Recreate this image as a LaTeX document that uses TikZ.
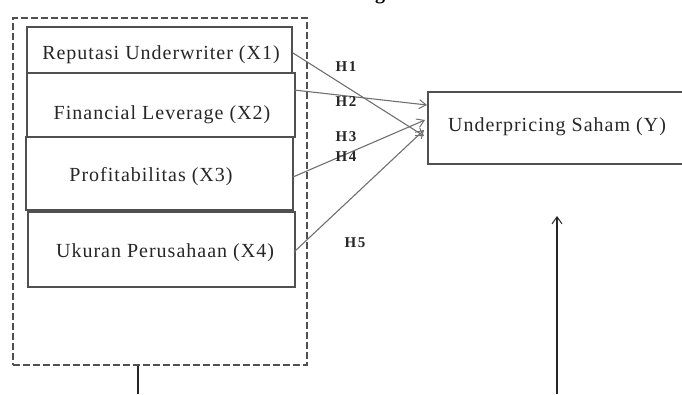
\documentclass[tikz,border=0pt]{standalone}
\usepackage{fontspec}
\setmainfont{Liberation Serif}
\newfontfamily\boxfont[LetterSpace=5]{Liberation Serif}
\usetikzlibrary{arrows.meta,calc}
\definecolor{linegray}{HTML}{505050}
\definecolor{arrgray}{HTML}{707070}
\begin{document}
\begin{tikzpicture}[x=1pt,y=-1pt,
  varbox/.style={draw=linegray,line width=1.4pt,inner sep=0pt},
  vartext/.style={font=\boxfont\fontsize{20}{22}\selectfont,text=black!85,inner sep=0pt},
  hyp/.style={font=\bfseries\fontsize{15}{17}\selectfont\addfontfeatures{LetterSpace=10},inner sep=0pt,text=black!85},
  link/.style={draw=arrgray,line width=1.1pt,-{Straight Barb[length=7pt,width=9pt,line width=1pt]}},
  frame/.style={draw=linegray,line width=1.3pt,dash pattern=on 7pt off 3pt}]
\useasboundingbox (0,0) rectangle (682,394);
\clip (0,0) rectangle (682,394);
% clipped caption fragment
\node[font=\bfseries\fontsize{20}{22}\selectfont,anchor=base,inner sep=0pt] (cap) at (380,-1) {g};
% dashed frame
\node[frame,minimum width=294pt,minimum height=347pt,inner sep=0pt] (frm) at (160,191.5) {};
% variable boxes
\node[varbox,minimum width=265pt,minimum height=46pt] (x1) at (159.5,50) {};
\node[varbox,minimum width=268pt,minimum height=64pt] (x2) at (161,105) {};
\node[varbox,minimum width=267pt,minimum height=73pt] (x3) at (159.5,173.5) {};
\node[varbox,minimum width=267pt,minimum height=75pt] (x4) at (161.5,249.5) {};
\node[vartext] (t1) at (161,55) {Reputasi Underwriter (X1)};
\node[vartext] (t2) at (162,115) {Financial Leverage (X2)};
\node[vartext] (t3) at (151,177) {Profitabilitas (X3)};
\node[vartext] (t4) at (165,253) {Ukuran Perusahaan (X4)};
% dependent box
\node[varbox,minimum width=270pt,minimum height=72pt] (y) at (563,128) {};
\node[vartext] (ty) at (557,127) {Underpricing Saham (Y)};
% connector points
\coordinate (s1) at (293,53);
\coordinate (s2) at (294,90);
\coordinate (s3) at (293,177);
\coordinate (s4) at (294,252);
\coordinate (e1) at (424,136);
\coordinate (e2) at (427,105);
\coordinate (e3) at (425,120);
\coordinate (e4) at (424,130);
\draw[link] (s1) -- (e1);
\draw[link] (s2) -- (e2);
\draw[link] (s3) -- (e3);
\draw[link] (s4) -- (e4);
% hypothesis labels
\node[hyp] (h1) at (346,67) {H1};
\node[hyp] (h2) at (346,102) {H2};
\node[hyp] (h3) at (346,137) {H3};
\node[hyp] (h4) at (346,157) {H4};
\node[hyp] (h5) at (355,243) {H5};
% bottom lines
\coordinate (b1) at (138,394);
\coordinate (b2) at (557,394);
\coordinate (up) at (557,216);
\draw[line width=1.2pt,black!85] (frm.south -| b1) -- (b1);
\draw[line width=1.2pt,black!85,-{Straight Barb[length=7pt,width=10pt,line width=1pt]}] (b2) -- (up);
\end{tikzpicture}
\end{document}
